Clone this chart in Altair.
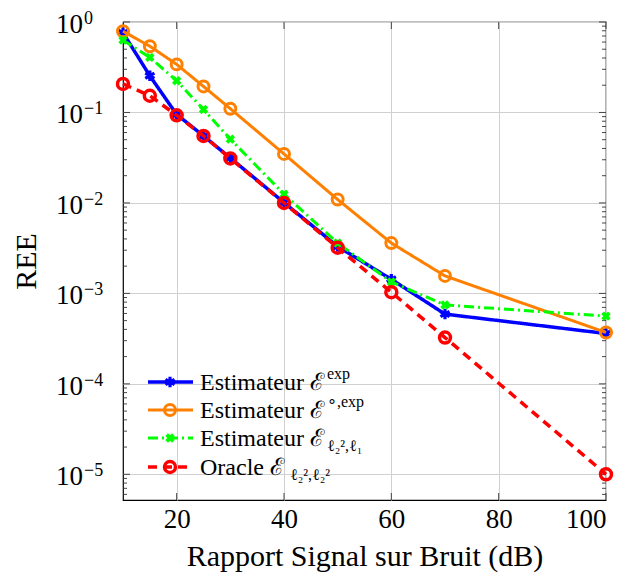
import altair as alt
import pandas as pd

# ---------------- data ----------------
snr = [10, 15, 20, 25, 30, 40, 50, 60, 70, 100]
ree_exp = [0.76, 0.254, 0.095, 0.055, 0.0314, 0.0101, 0.0033, 0.00143, 0.00059, 0.00036]
ree_circ_exp = [0.79, 0.54, 0.34, 0.194, 0.11, 0.0348, 0.0109, 0.0036, 0.00156, 0.00037]
ree_l2l1 = [0.63, 0.406, 0.224, 0.108, 0.0507, 0.0125, 0.0036, 0.00134, 0.000745, 0.00056]
ree_oracle = [0.207, 0.153, 0.093, 0.055, 0.031, 0.0100, 0.0032, 0.00103, 0.000325, 0.00001]

legend_main = ["Estimateur ℰ", "Estimateur ℰ", "Estimateur ℰ", "Oracle ℰ"]
legend_script = ["exp", "∘,exp", "ℓ₂²,ℓ₁", "ℓ₂²,ℓ₂²"]

x_ticks = [20, 40, 60, 80, 100]
y_decades = [1e-5, 1e-4, 1e-3, 1e-2, 1e-1, 1]
y_exponents = ["−5", "−4", "−3", "−2", "−1", "0"]

# ---------------- layout ----------------
W, H = 483, 478
FONT = "Liberation Serif"
xs = alt.Scale(domain=[10, 100], nice=False, zero=False)
ys = alt.Scale(type="log", domain=[5.2e-6, 1], nice=False)

xa = alt.Axis(values=x_ticks, grid=True, gridColor="#d0d0d0", gridWidth=1, ticks=False,
              domain=False, title="Rapport Signal sur Bruit (dB)", labelPadding=6,
              titlePadding=9, format="d")
ya = alt.Axis(values=y_decades, grid=True, gridColor="#d0d0d0", gridWidth=1, ticks=False,
              domain=False, labels=False, title="REE", titlePadding=82)


def X(field):
    return alt.X(field, scale=xs, axis=xa)


def Y(field):
    return alt.Y(field, scale=ys, axis=ya)


styles = [
    dict(vals=ree_exp, color="#0000ff", dash=[1, 0], lw=3.5,
         shape="M0,-1L0,1M-0.87,-0.5L0.87,0.5M-0.87,0.5L0.87,-0.5", filled=False, size=110, mw=3.2),
    dict(vals=ree_circ_exp, color="#ff8000", dash=[1, 0], lw=3,
         shape="circle", filled=False, size=120, mw=3),
    dict(vals=ree_l2l1, color="#00ff00", dash=[10, 4, 2, 4], lw=3,
         shape="cross", filled=True, size=90, mw=0),
    dict(vals=ree_oracle, color="#ff0000", dash=[9, 6], lw=3.5,
         shape="circle", filled=False, size=120, mw=3.5),
]

layers = []

# tick marks (inward, both sides)
minor_vals = [m * 10.0 ** e for e in range(-6, 0) for m in range(2, 10) if m * 10.0 ** e >= 5.2e-6]
minor_df = pd.DataFrame({"v": minor_vals})
major_df = pd.DataFrame({"v": y_decades})
xt_df = pd.DataFrame({"v": x_ticks})
tick = dict(color="#333333", strokeWidth=0.9)
layers += [
    alt.Chart(minor_df).mark_rule(**tick).encode(y=Y("v:Q"), x=alt.value(0), x2=alt.value(4)),
    alt.Chart(minor_df).mark_rule(**tick).encode(y=Y("v:Q"), x=alt.value(W), x2=alt.value(W - 4)),
    alt.Chart(major_df).mark_rule(**tick).encode(y=Y("v:Q"), x=alt.value(0), x2=alt.value(7)),
    alt.Chart(major_df).mark_rule(**tick).encode(y=Y("v:Q"), x=alt.value(W), x2=alt.value(W - 7)),
    alt.Chart(xt_df).mark_rule(**tick).encode(x=X("v:Q"), y=alt.value(H), y2=alt.value(H - 7)),
    alt.Chart(xt_df).mark_rule(**tick).encode(x=X("v:Q"), y=alt.value(0), y2=alt.value(7)),
]

# y tick labels "10^k"
lab_df = pd.DataFrame({"v": y_decades, "e": y_exponents})
layers += [
    alt.Chart(lab_df).mark_text(align="right", baseline="middle", font=FONT, fontSize=27,
                                dy=3, color="black").encode(
        y=Y("v:Q"), x=alt.value(-40), text=alt.value("10")),
    alt.Chart(lab_df).mark_text(align="left", baseline="middle", font=FONT, fontSize=18,
                                dy=-3, color="black").encode(
        y=Y("v:Q"), x=alt.value(-39), text="e:N"),
]

# series
for st in styles:
    df = pd.DataFrame({"snr": snr, "v": st["vals"]})
    line = alt.Chart(df).mark_line(color=st["color"], strokeWidth=st["lw"],
                                   strokeDash=st["dash"]).encode(x=X("snr:Q"), y=Y("v:Q"))
    pt_kwargs = dict(shape=st["shape"], filled=st["filled"], size=st["size"], color=st["color"], opacity=1)
    if st["shape"] == "cross":
        pt_kwargs["angle"] = 45
    else:
        pt_kwargs["strokeWidth"] = st["mw"]
    pts = alt.Chart(df).mark_point(**pt_kwargs).encode(x=X("snr:Q"), y=Y("v:Q"))
    layers += [line, pts]

# legend (manual, inside plot lower-left)
row_y = [360, 388, 416, 445]
main_dx = [125, 125, 125, 88]
one = pd.DataFrame({"a": [0]})
for i, st in enumerate(styles):
    y = row_y[i]
    layers.append(alt.Chart(one).mark_rule(color=st["color"], strokeWidth=st["lw"],
                                           strokeDash=st["dash"]).encode(
        x=alt.value(25), x2=alt.value(70), y=alt.value(y)))
    pt_kwargs = dict(shape=st["shape"], filled=st["filled"], size=st["size"], color=st["color"], opacity=1)
    if st["shape"] == "cross":
        pt_kwargs["angle"] = 45
    else:
        pt_kwargs["strokeWidth"] = st["mw"]
    layers.append(alt.Chart(one).mark_point(**pt_kwargs).encode(x=alt.value(47), y=alt.value(y)))
    layers.append(alt.Chart(one).mark_text(align="left", baseline="middle", font=FONT, fontSize=24,
                                           color="black").encode(
        x=alt.value(77), y=alt.value(y + 1), text=alt.value(legend_main[i])))
    sub = i >= 2
    layers.append(alt.Chart(one).mark_text(align="left", baseline="middle", font=FONT, fontSize=16,
                                           color="black").encode(
        x=alt.value(77 + main_dx[i] + 2), y=alt.value(y + (8 if sub else -8)),
        text=alt.value(legend_script[i])))

chart = alt.layer(*layers).properties(
    width=W, height=H,
    padding={"left": 115, "top": 14, "right": 14, "bottom": 73},
    autosize=alt.AutoSizeParams(type="none"),
    background="white",
).configure_view(stroke="black", strokeWidth=1.2).configure_axis(
    labelFont=FONT, labelFontSize=27, labelColor="black",
    titleFont=FONT, titleFontSize=30, titleFontWeight="normal", titleColor="black",
)

chart.save("out.html", embed_options={"renderer": "svg", "actions": False})
